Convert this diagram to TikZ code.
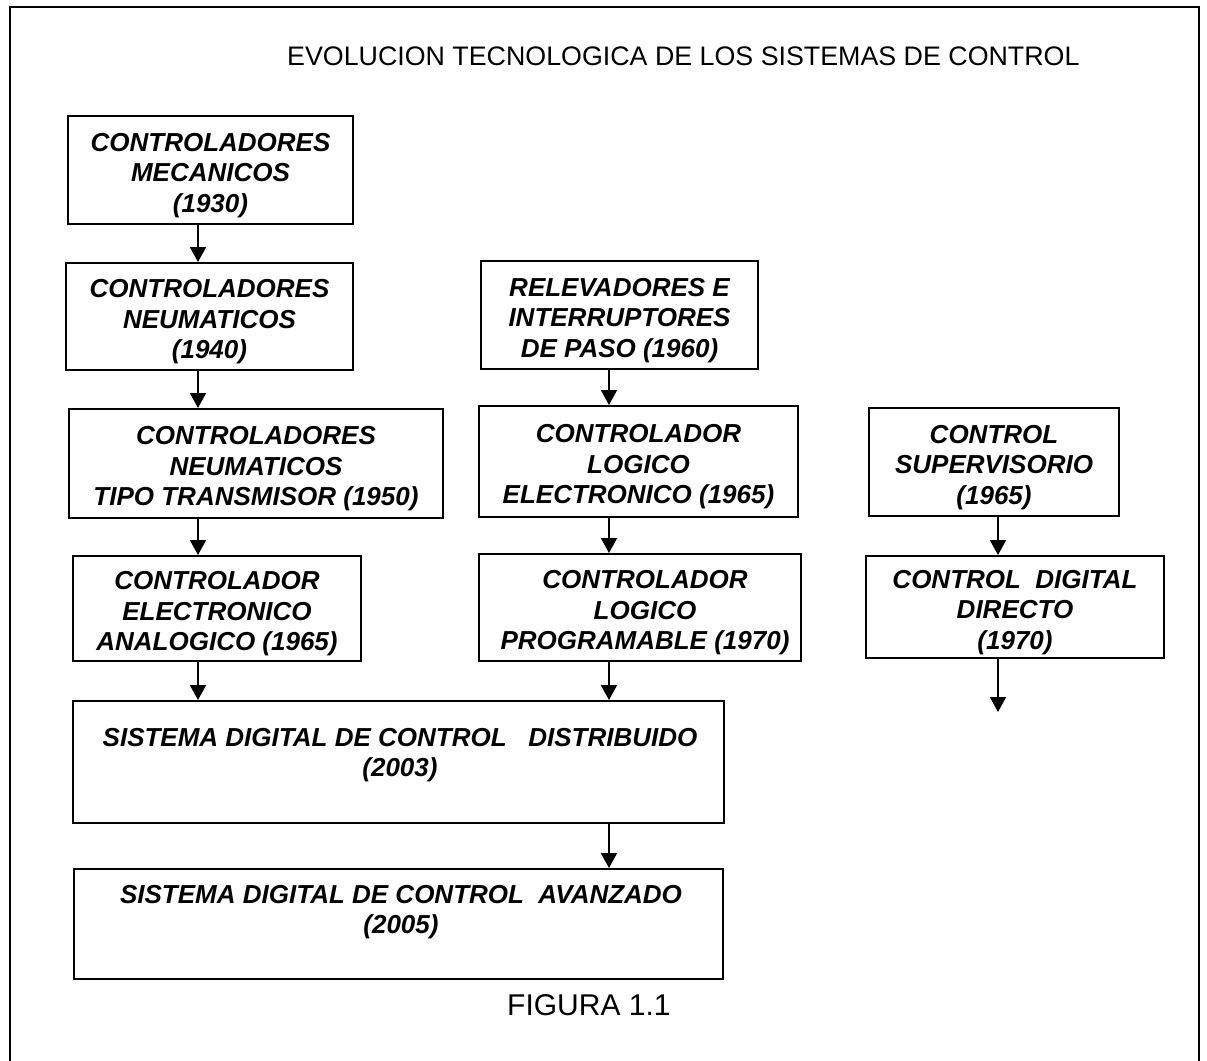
\documentclass[tikz,border=0pt]{standalone}
\usepackage{fontspec}
\setmainfont{Liberation Sans}
\usetikzlibrary{arrows.meta}
\newcommand{\topstrutx}{\rule{0pt}{29pt}}
\begin{document}
\begin{tikzpicture}[x=1pt,y=-1pt,
  boxfont/.style={font=\fontsize{26}{30.5}\selectfont\bfseries\itshape},
  box/.style={draw, line width=2pt, rectangle, anchor=north west, inner sep=0pt, align=center, boxfont},
  boxtext/.style={inner sep=0pt, align=center, anchor=north, boxfont},
  arr/.style={line width=2pt, -{Triangle[width=16pt,length=15pt]}},
  frame/.style={line width=2pt}
]
\useasboundingbox (0,0) rectangle (1207,1060);
\fill[white] (0,0) rectangle (1207,1060);
\draw[frame] (10,1064) -- (10,7) -- (1199,7) -- (1199,1064);

\node[anchor=base west, inner sep=0pt, font=\fontsize{26.8}{30}\selectfont] (title) at (287,65)
  {EVOLUCION TECNOLOGICA DE LOS SISTEMAS DE CONTROL};

% column 1
\node[box, minimum width=285, minimum height=108] (b1) at (67,115) {\topstrutx CONTROLADORES\\MECANICOS\\(1930)};
\node[box, minimum width=287, minimum height=107] (b2) at (65,262) {\topstrutx CONTROLADORES\\NEUMATICOS\\(1940)};
\node[box, minimum width=374, minimum height=109] (b3) at (68,408) {\topstrutx CONTROLADORES\\NEUMATICOS\\TIPO TRANSMISOR (1950)};
\node[box, minimum width=288, minimum height=105] (b4) at (72,555) {\topstrutx CONTROLADOR\\ELECTRONICO\\ANALOGICO (1965)};

% column 2
\node[box, minimum width=277, minimum height=108] (r1) at (480,260) {\topstrutx RELEVADORES E\\INTERRUPTORES\\DE PASO (1960)};
\node[box, minimum width=319, minimum height=111] (r2) at (478,405) {\topstrutx CONTROLADOR\\LOGICO\\ELECTRONICO (1965)};
\node[box, minimum width=322, minimum height=107] (r3) at (478,553) {\topstrutx\hspace*{10pt}CONTROLADOR\\\hspace*{10pt}LOGICO\\\hspace*{10pt}PROGRAMABLE (1970)};

% column 3
\node[box, minimum width=250, minimum height=108] (s1) at (868,407) {\topstrutx CONTROL\\SUPERVISORIO\\(1965)};
\node[box, minimum width=298, minimum height=102] (s2) at (865,555) {\topstrutx CONTROL\ \ DIGITAL\\DIRECTO\\(1970)};

% wide boxes
\node[box, minimum width=651, minimum height=122] (b5) at (72,700) {};
\node[boxtext] (b5t) at (400,728) {SISTEMA DIGITAL DE CONTROL\ \ \ DISTRIBUIDO\\(2003)};
\node[box, minimum width=649, minimum height=110] (b6) at (73,868) {};
\node[boxtext] (b6t) at (401,885) {SISTEMA DIGITAL DE CONTROL\ \ AVANZADO\\(2005)};

\node[anchor=base west, inner sep=0pt, font=\fontsize{30}{36}\selectfont] (fig) at (507,1015) {FIGURA 1.1};

% arrow columns
\coordinate (xa) at (198,0);
\coordinate (xb) at (609,0);
\coordinate (xc) at (998,0);
\coordinate (send) at (998,712);

\draw[arr] (b1.south -| xa) -- (b2.north -| xa);
\draw[arr] (b2.south -| xa) -- (b3.north -| xa);
\draw[arr] (b3.south -| xa) -- (b4.north -| xa);
\draw[arr] (b4.south -| xa) -- (b5.north -| xa);
\draw[arr] (r1.south -| xb) -- (r2.north -| xb);
\draw[arr] (r2.south -| xb) -- (r3.north -| xb);
\draw[arr] (r3.south -| xb) -- (b5.north -| xb);
\draw[arr] (b5.south -| xb) -- (b6.north -| xb);
\draw[arr] (s1.south -| xc) -- (s2.north -| xc);
\draw[arr] (s2.south -| xc) -- (send);
\end{tikzpicture}
\end{document}
